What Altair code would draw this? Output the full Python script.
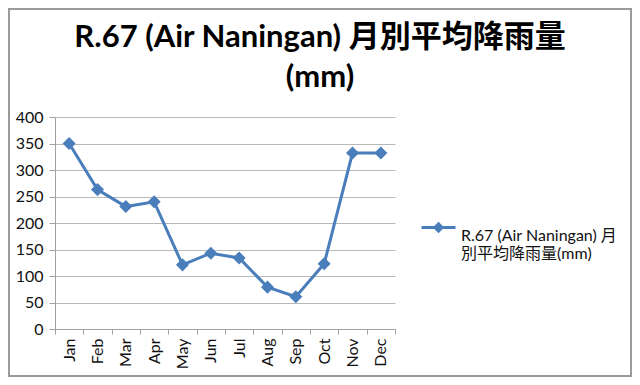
import altair as alt
import pandas as pd

months = ["Jan", "Feb", "Mar", "Apr", "May", "Jun", "Jul", "Aug", "Sep", "Oct", "Nov", "Dec"]
rainfall = [350, 263, 231, 240, 121, 143, 134, 79, 61, 123, 332, 332]
series_name = "R.67 (Air Naningan) 月別平均降雨量(mm)"
title_lines = ["R.67 (Air Naningan) 月別平均降雨量", "(mm)"]
y_ticks = [0, 50, 100, 150, 200, 250, 300, 350, 400]

df = pd.DataFrame({"month": months, "value": rainfall, "series": [series_name] * len(months)})

FONT = "Lato, Noto Sans CJK JP"
BLUE = "#4A7EBB"
W, H = 340, 212
PL, PT = 47, 109
TOTW, TOTH = 624, 369

x_enc = alt.X("month:N", sort=months, title=None,
              scale=alt.Scale(type="band", paddingInner=0, paddingOuter=0),
              axis=alt.Axis(labelAngle=-90, tickBand="extent", tickSize=5, labelPadding=4,
                            domainColor="#A0A0A0", tickColor="#A0A0A0", labelFontSize=16,
                            labelColor="#111111", labelFont=FONT, grid=False))
y_enc = alt.Y("value:Q", title=None,
              scale=alt.Scale(domain=[0, 400], nice=False),
              axis=alt.Axis(values=y_ticks, tickSize=6, labelPadding=6, gridColor="#B8B8B8",
                            domainColor="#A0A0A0", tickColor="#A0A0A0", labelFontSize=16,
                            labelColor="#111111", labelFont=FONT))
color_enc = alt.Color("series:N", title=None,
                      scale=alt.Scale(range=[BLUE]),
                      legend=alt.Legend(orient="none", legendX=460 - 8 - PL - 40, legendY=209 - 8 - PT,
                                        symbolType="M-1,0L1,0M0,-0.21L0.21,0L0,0.21L-0.21,0Z",
                                        symbolSize=1156, symbolStrokeWidth=3,
                                        symbolStrokeColor=BLUE, symbolFillColor=BLUE,
                                        labelExpr="['R.67 (Air Naningan) 月', '別平均降雨量(mm)']",
                                        labelFontSize=16, labelFont=FONT, labelColor="#111111",
                                        labelLimit=300, labelBaseline="top", labelOffset=4))

line = alt.Chart(df).mark_line(strokeWidth=3, color=BLUE).encode(x=x_enc, y=y_enc, color=color_enc)
pts = alt.Chart(df).mark_point(shape="diamond", filled=True, size=170, opacity=1).encode(
    x=x_enc, y=y_enc, color=alt.Color("series:N", scale=alt.Scale(range=[BLUE]), legend=None))

one = pd.DataFrame({"a": [0]})
frame = alt.Chart(one).mark_rect(fill=None, stroke="#9A9A9A", strokeWidth=2).encode(
    x=alt.value(-PL + 1), x2=alt.value(TOTW - PL - 1), y=alt.value(-PT + 1), y2=alt.value(TOTH - PT - 1))

title1 = alt.Chart(one).mark_text(font=FONT, fontSize=31, fontWeight="bold", color="#000000",
                                  align="center", baseline="alphabetic").encode(
    text=alt.value(title_lines[0]), x=alt.value(320 - 8 - PL), y=alt.value(47 - 8 - PT))
title2 = alt.Chart(one).mark_text(font=FONT, fontSize=31, fontWeight="bold", color="#000000",
                                  align="center", baseline="alphabetic").encode(
    text=alt.value(title_lines[1]), x=alt.value(320 - 8 - PL), y=alt.value(87 - 8 - PT))

chart = alt.layer(line, pts, frame, title1, title2).properties(
    width=W, height=H,
    padding={"left": PL, "top": PT, "right": TOTW - PL - W, "bottom": TOTH - PT - H},
    autosize=alt.AutoSizeParams(type="none"),
).configure_view(stroke=None)

chart.save("out.html", embed_options={"renderer": "svg", "actions": False})
